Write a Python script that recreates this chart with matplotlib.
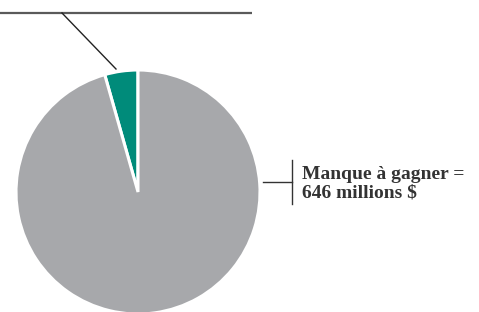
import matplotlib.pyplot as plt

# shares of the pie (percent)
labels = ['Part reçue', 'Manque à gagner']
shares = [4.4, 95.6]
colors = ['#008B7A', '#A7A8AB']
note = 'Manque à gagner =\n646 millions $'

fig = plt.figure(figsize=(4.79, 3.12), dpi=100)
ax = fig.add_axes([0, 0, 1, 1])

ax.pie(shares, colors=colors, startangle=90, counterclock=True,
       center=(138, 120), radius=122,
       wedgeprops=dict(edgecolor='white', linewidth=2.2))
ax.set_xlim(0, 479)
ax.set_ylim(0, 312)
ax.set_aspect('equal')
ax.axis('off')

# leader line to the small slice
ax.plot([0, 252], [299, 299], color='#5a5a5a', lw=1.6, solid_capstyle='butt')
ax.plot([62, 116], [299, 243], color='#222222', lw=1.0)

# bracket for the big slice
ax.plot([263, 292], [130, 130], color='#333333', lw=1.0)
ax.plot([292, 292], [108, 152], color='#333333', lw=1.0)
ax.text(302, 128, note, fontsize=14, fontweight='bold', family='Liberation Serif',
        color='#333333', va='center', ha='left', linespacing=1.1)

fig.savefig('out.png', dpi=100)
